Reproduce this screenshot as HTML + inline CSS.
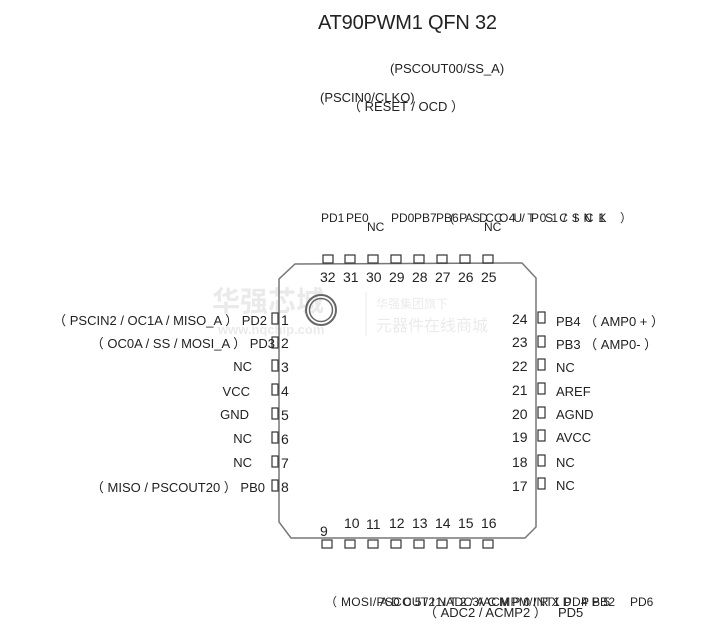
<!DOCTYPE html>
<html><head><meta charset="utf-8"><style>
html,body{margin:0;padding:0;background:#fff;width:711px;height:628px;overflow:hidden}
svg{display:block}
text{font-family:"Liberation Sans","Noto Sans CJK SC",sans-serif;fill:#222;font-size:13px}
</style></head><body>
<svg width="711" height="628" viewBox="0 0 711 628">
<text x="318" y="29" style="font-size:20px" textLength="179">AT90PWM1 QFN 32</text>
<text x="390" y="73">(PSCOUT00/SS_A)</text>
<text x="320" y="102">(PSCIN0/CLKO)</text>
<text x="348" y="111">（ RESET / OCD ）</text>
<text x="321" y="222" style="font-size:12px">PD1</text>
<text x="346" y="222" style="font-size:12px">PE0</text>
<text x="367" y="231" style="font-size:12px">NC</text>
<text x="391" y="222" style="font-size:12px">PD0</text>
<text x="414" y="222" style="font-size:12px">PB7</text>
<text x="436" y="222" style="font-size:12px">PB6</text>
<text x="450" y="222" style="font-size:12px" textLength="182">(PSCOUT01/SCK ）</text>
<text x="465" y="222" style="font-size:12px" textLength="140">ADC4/PSCIN1</text>
<text x="484" y="231" style="font-size:12px">NC</text>
<!-- watermark -->
<g opacity="0.08"><text x="212" y="311" style="font-size:28px;font-weight:bold;fill:#000">华强芯城</text>
<text x="218" y="334" style="font-size:13px;font-weight:bold;fill:#000">www.hqchip.com</text>
<text x="376" y="308" style="font-size:12px;fill:#000">华强集团旗下</text>
<text x="376" y="331" style="font-size:16px;fill:#000">元器件在线商城</text>
<line x1="366" y1="292" x2="366" y2="336" stroke="#000"/></g>
<!-- body -->
<path d="M295,264 L522,263 L536,278 L536,527 L525,538 L291,538 L279,522 L279,279 Z" fill="none" stroke="#777" stroke-width="1.5"/>
<circle cx="321" cy="310" r="15" fill="none" stroke="#666" stroke-width="2"/>
<circle cx="321" cy="310" r="11.5" fill="none" stroke="#666" stroke-width="1.5"/>
<g fill="none" stroke="#333" stroke-width="1.2">
<rect x="323" y="255" width="10" height="8"/><rect x="345" y="255" width="10" height="8"/><rect x="368" y="255" width="10" height="8"/><rect x="391" y="255" width="10" height="8"/><rect x="414" y="255" width="10" height="8"/><rect x="437" y="255" width="10" height="8"/><rect x="460" y="255" width="10" height="8"/><rect x="483" y="255" width="10" height="8"/>
<rect x="322" y="540" width="10" height="8"/><rect x="345" y="540" width="10" height="8"/><rect x="368" y="540" width="10" height="8"/><rect x="391" y="540" width="10" height="8"/><rect x="414" y="540" width="10" height="8"/><rect x="437" y="540" width="10" height="8"/><rect x="460" y="540" width="10" height="8"/><rect x="483" y="540" width="10" height="8"/>
<rect x="272" y="313" width="6" height="11"/><rect x="272" y="337" width="6" height="11"/><rect x="272" y="360" width="6" height="11"/><rect x="272" y="384" width="6" height="11"/><rect x="272" y="408" width="6" height="11"/><rect x="272" y="432" width="6" height="11"/><rect x="272" y="456" width="6" height="11"/><rect x="272" y="480" width="6" height="11"/>
<rect x="538" y="312" width="7" height="11"/><rect x="538" y="336" width="7" height="11"/><rect x="538" y="359" width="7" height="11"/><rect x="538" y="383" width="7" height="11"/><rect x="538" y="407" width="7" height="11"/><rect x="538" y="430" width="7" height="11"/><rect x="538" y="455" width="7" height="11"/><rect x="538" y="478" width="7" height="11"/>
</g>
<g>
<text x="320" y="282" style="font-size:14px">32</text><text x="343" y="282" style="font-size:14px">31</text><text x="366" y="282" style="font-size:14px">30</text><text x="389" y="282" style="font-size:14px">29</text><text x="412" y="282" style="font-size:14px">28</text><text x="435" y="282" style="font-size:14px">27</text><text x="458" y="282" style="font-size:14px">26</text><text x="481" y="282" style="font-size:14px">25</text>
<text x="320" y="536" style="font-size:14px">9</text><text x="344" y="528" style="font-size:14px">10</text><text x="366" y="529" style="font-size:14px">11</text><text x="389" y="528" style="font-size:14px">12</text><text x="412" y="528" style="font-size:14px">13</text><text x="435" y="528" style="font-size:14px">14</text><text x="458" y="528" style="font-size:14px">15</text><text x="481" y="528" style="font-size:14px">16</text>
</g>
<g>
<text x="281" y="325" style="font-size:14px">1</text><text x="281" y="348" style="font-size:14px">2</text><text x="281" y="372" style="font-size:14px">3</text><text x="281" y="396" style="font-size:14px">4</text><text x="281" y="420" style="font-size:14px">5</text><text x="281" y="444" style="font-size:14px">6</text><text x="281" y="468" style="font-size:14px">7</text><text x="281" y="492" style="font-size:14px">8</text>
<text x="512" y="324" style="font-size:14px">24</text><text x="512" y="347" style="font-size:14px">23</text><text x="512" y="371" style="font-size:14px">22</text><text x="512" y="395" style="font-size:14px">21</text><text x="512" y="419" style="font-size:14px">20</text><text x="512" y="442" style="font-size:14px">19</text><text x="512" y="467" style="font-size:14px">18</text><text x="512" y="491" style="font-size:14px">17</text>
</g>
<g text-anchor="end">
<text x="267" y="325">（ PSCIN2 / OC1A / MISO_A ） PD2</text>
<text x="275" y="348">（ OC0A / SS / MOSI_A ） PD3</text>
<text x="252" y="371">NC</text>
<text x="250" y="396">VCC</text>
<text x="249" y="419">GND</text>
<text x="252" y="443">NC</text>
<text x="252" y="467">NC</text>
<text x="265" y="492">（ MISO / PSCOUT20 ） PB0</text>
</g>
<text x="556" y="326">PB4 （ AMP0 + ）</text>
<text x="556" y="349">PB3 （ AMP0- ）</text>
<text x="556" y="372">NC</text>
<text x="556" y="396">AREF</text>
<text x="556" y="419">AGND</text>
<text x="556" y="442">AVCC</text>
<text x="556" y="467">NC</text>
<text x="556" y="490">NC</text>
<text x="325" y="606" style="font-size:12px" textLength="290">（ MOSI/PSCOUT21/ADC3/ACMPM/INT1 PD4 PB2</text>
<text x="380" y="606" style="font-size:12px" textLength="230">ADC5/INT2/ACMP0/RXD PB5</text>
<text x="630" y="606" style="font-size:12px">PD6</text>
<text x="424" y="617">（ ADC2 / ACMP2 ）</text>
<text x="558" y="617">PD5</text>
</svg>
</body></html>
